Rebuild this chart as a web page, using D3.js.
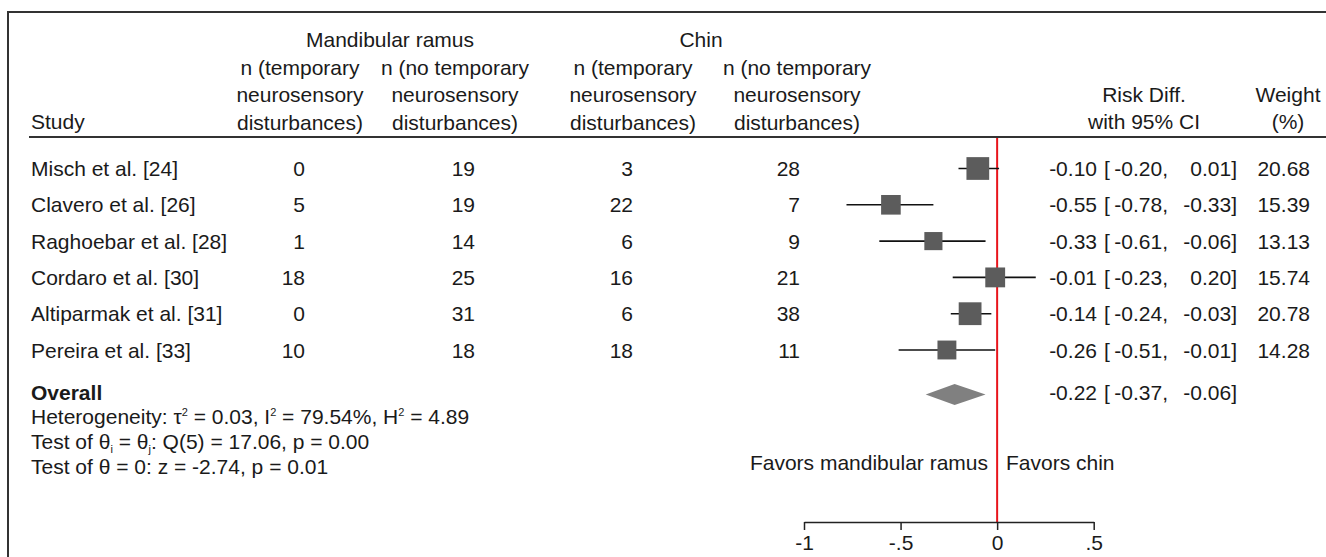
<!DOCTYPE html>
<html>
<head>
<meta charset="utf-8">
<script src="https://cdn.jsdelivr.net/npm/d3@7"></script>
<style>
  body { margin: 0; background: #fff; }
  text { font-family: "Liberation Sans", Arial, Helvetica, sans-serif; fill: #1a1a1a; }
</style>
</head>
<body>
<div id="container"></div>
<script>
// study rows
var studies = ["Misch et al. [24]", "Clavero et al. [26]", "Raghoebar et al. [28]",
               "Cordaro et al. [30]", "Altiparmak et al. [31]", "Pereira et al. [33]"];
var ramusTemp   = [0, 5, 1, 18, 0, 10];
var ramusNoTemp = [19, 19, 14, 25, 31, 18];
var chinTemp    = [3, 22, 6, 16, 6, 18];
var chinNoTemp  = [28, 7, 9, 21, 38, 11];
var riskDiff = [-0.10, -0.55, -0.33, -0.01, -0.14, -0.26];
var ciLow    = [-0.20, -0.78, -0.61, -0.23, -0.24, -0.51];
var ciHigh   = [0.01, -0.33, -0.06, 0.20, -0.03, -0.01];
var weights  = [20.68, 15.39, 13.13, 15.74, 20.78, 14.28];

var overall = { est: -0.22, lo: -0.37, hi: -0.06 };
var xTicks = [-1, -0.5, 0, 0.5];
var xTickLabels = ["-1", "-.5", "0", ".5"];

function init() {
    var W = 1326, H = 557;
    var fs = 21;

    var svg = d3.select("#container").append("svg")
        .attr("width", W)
        .attr("height", H);

    // risk difference scale
    var x = d3.scaleLinear().domain([-1, 0.5]).range([804, 1093.7]);
    // row baselines
    var y = d3.scaleLinear().domain([0, 5]).range([176, 357.5]);

    // frame
    svg.append("path")
        .attr("d", "M8," + (H + 5) + "V12H" + (W + 5))
        .attr("fill", "none")
        .attr("stroke", "#333")
        .attr("stroke-width", 2);

    // header rule
    svg.append("line")
        .attr("x1", 29).attr("x2", W)
        .attr("y1", 137).attr("y2", 137)
        .attr("stroke", "#333")
        .attr("stroke-width", 2);

    function txt(xp, yp, s, anchor) {
        return svg.append("text")
            .attr("x", xp).attr("y", yp)
            .attr("text-anchor", anchor || "start")
            .style("font-size", fs + "px")
            .text(s);
    }

    // headers
    txt(390, 47, "Mandibular ramus", "middle");
    txt(701, 47, "Chin", "middle");
    var colCenters = [300, 455, 633, 797];
    var hdr = [["n (temporary", "neurosensory", "disturbances)"],
               ["n (no temporary", "neurosensory", "disturbances)"],
               ["n (temporary", "neurosensory", "disturbances)"],
               ["n (no temporary", "neurosensory", "disturbances)"]];
    hdr.forEach(function (lines, c) {
        lines.forEach(function (l, k) {
            txt(colCenters[c], 75 + k * 27.3, l, "middle");
        });
    });
    txt(31, 129, "Study");
    txt(1144, 102, "Risk Diff.", "middle");
    txt(1144, 129, "with 95% CI", "middle");
    txt(1288, 102, "Weight", "middle");
    txt(1288, 129, "(%)", "middle");

    // red null line
    svg.append("line")
        .attr("x1", x(0)).attr("x2", x(0))
        .attr("y1", 138).attr("y2", 522)
        .attr("stroke", "#e8141b")
        .attr("stroke-width", 2);

    // table columns
    var colRight = [305, 475, 633, 800];
    var cols = [ramusTemp, ramusNoTemp, chinTemp, chinNoTemp];
    studies.forEach(function (s, i) {
        var yb = y(i);
        txt(31, yb, s);
        cols.forEach(function (arr, c) {
            txt(colRight[c], yb, arr[i], "end");
        });
        txt(1097, yb, riskDiff[i].toFixed(2), "end");
        txt(1104, yb, "[");
        txt(1168, yb, ciLow[i].toFixed(2) + ",", "end");
        txt(1237, yb, ciHigh[i].toFixed(2) + "]", "end");
        txt(1310, yb, weights[i].toFixed(2), "end");
    });

    // CI lines and weighted squares
    var g = svg.append("g");
    g.selectAll(".ci").data(studies).enter().append("line")
        .attr("x1", function (d, i) { return x(ciLow[i]); })
        .attr("x2", function (d, i) { return x(ciHigh[i]); })
        .attr("y1", function (d, i) { return y(i) - 7.5; })
        .attr("y2", function (d, i) { return y(i) - 7.5; })
        .attr("stroke", "#111")
        .attr("stroke-width", 1.6);
    g.selectAll(".sq").data(studies).enter().append("rect")
        .attr("x", function (d, i) { return x(riskDiff[i]) - 2.5 * Math.sqrt(weights[i]); })
        .attr("y", function (d, i) { return y(i) - 7.5 - 2.5 * Math.sqrt(weights[i]); })
        .attr("width", function (d, i) { return 5 * Math.sqrt(weights[i]); })
        .attr("height", function (d, i) { return 5 * Math.sqrt(weights[i]); })
        .attr("fill", "#5c5c5c");

    // overall
    var yo = 400;
    txt(31, yo, "Overall").style("font-weight", "bold");
    var dy = 394.5;
    svg.append("path")
        .datum(overall)
        .attr("d", function (d) {
            return "M" + x(d.lo) + "," + dy + "L" + x(d.est) + "," + (dy - 10.5) +
                   "L" + x(d.hi) + "," + dy + "L" + x(d.est) + "," + (dy + 10.5) + "Z";
        })
        .attr("fill", "#808080");
    txt(1097, yo, overall.est.toFixed(2), "end");
    txt(1104, yo, "[");
    txt(1168, yo, overall.lo.toFixed(2) + ",", "end");
    txt(1237, yo, overall.hi.toFixed(2) + "]", "end");

    // stats lines with sub/superscripts
    function rich(xp, yp, runs) {
        var t = svg.append("text").attr("x", xp).attr("y", yp).style("font-size", fs + "px");
        var shift = 0;
        runs.forEach(function (r) {
            var target = r.sup ? -8 : (r.sub ? 4 : 0);
            t.append("tspan")
                .attr("dy", target - shift)
                .style("font-size", (r.sup || r.sub) ? "11px" : fs + "px")
                .text(r.t);
            shift = target;
        });
        return t;
    }
    rich(31, 424, [{t: "Heterogeneity: τ"}, {t: "2", sup: true}, {t: " = 0.03, I"}, {t: "2", sup: true},
                   {t: " = 79.54%, H"}, {t: "2", sup: true}, {t: " = 4.89"}]);
    rich(31, 449, [{t: "Test of θ"}, {t: "i", sub: true}, {t: " = θ"}, {t: "j", sub: true},
                   {t: ": Q(5) = 17.06, p = 0.00"}]);
    txt(31, 474, "Test of θ = 0: z = -2.74, p = 0.01");

    // favours labels
    txt(988, 470, "Favors mandibular ramus", "end");
    txt(1006, 470, "Favors chin");

    // axis
    var axis = svg.append("g")
        .attr("transform", "translate(0,522)")
        .call(d3.axisBottom(x).tickValues(xTicks)
            .tickFormat(function (d, i) { return xTickLabels[i]; })
            .tickSize(8).tickPadding(5).tickSizeOuter(0));
    axis.select(".domain").attr("stroke", "#222").attr("stroke-width", 1.5);
    axis.selectAll(".tick line").attr("stroke", "#222").attr("stroke-width", 1.5);
    axis.selectAll(".tick text")
        .style("font-size", fs + "px")
        .style("font-family", "'Liberation Sans', Arial, sans-serif")
        .attr("fill", "#1a1a1a");
}
init();
</script>
</body>
</html>
